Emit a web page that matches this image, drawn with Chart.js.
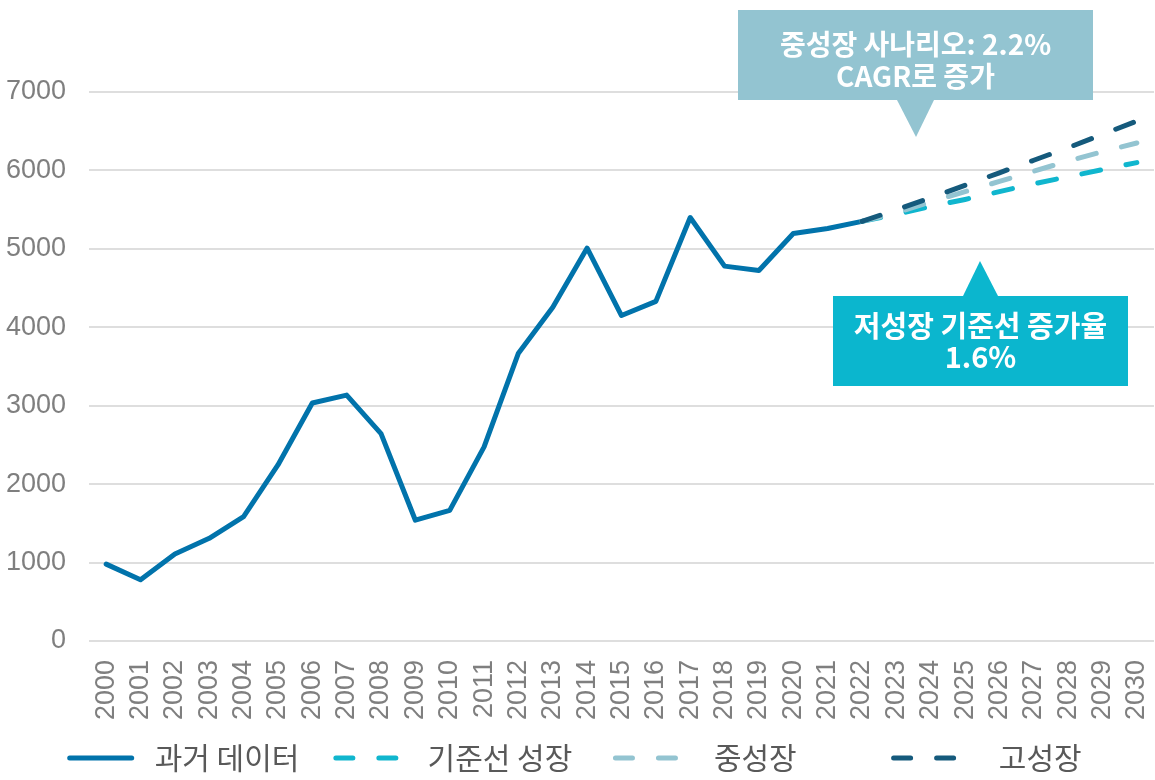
<!DOCTYPE html>
<html>
<head>
<meta charset="utf-8">
<script src="https://cdn.jsdelivr.net/npm/chart.js@4.4.1/dist/chart.umd.min.js"></script>
<style>
  html, body { margin: 0; padding: 0; background: #ffffff; }
  #wrap { width: 1155px; height: 780px; }
</style>
</head>
<body>
<div id="wrap"><canvas id="c" width="1155" height="780"></canvas></div>
<script>
// ---- data ----
const years = ['2000','2001','2002','2003','2004','2005','2006','2007','2008','2009',
               '2010','2011','2012','2013','2014','2015','2016','2017','2018','2019',
               '2020','2021','2022','2023','2024','2025','2026','2027','2028','2029','2030'];
const historical = [980, 780, 1110, 1310, 1585, 2245, 3035, 3135, 2645, 1540,
                    1665, 2475, 3670, 4255, 5010, 4150, 4330, 5400, 4780, 4725,
                    5195, 5260, 5350, null, null, null, null, null, null, null, null];
const baseline = [null, null, null, null, null, null, null, null, null, null,
                  null, null, null, null, null, null, null, null, null, null,
                  null, null, 5350, 5440, 5540, 5630, 5730, 5830, 5920, 6010, 6100];
const midGrowth = [null, null, null, null, null, null, null, null, null, null,
                   null, null, null, null, null, null, null, null, null, null,
                   null, null, 5350, 5460, 5600, 5730, 5860, 5990, 6120, 6240, 6350];
const highGrowth = [null, null, null, null, null, null, null, null, null, null,
                    null, null, null, null, null, null, null, null, null, null,
                    null, null, 5350, 5500, 5650, 5810, 5970, 6130, 6290, 6460, 6630];
const seriesNames = ['과거 데이터', '기준선 성장', '중성장', '고성장'];
const yTicks = [0, 1000, 2000, 3000, 4000, 5000, 6000, 7000];
const calloutMid = ['중성장 사나리오: 2.2%', 'CAGR로 증가'];
const calloutLow = ['저성장 기준선 증가율', '1.6%'];

// ---- styles ----
const colors = ['#0173AB', '#10B6CE', '#93C4D1', '#155A7C'];
const legendDash = [[62, 200], [17, 26], [17, 26], [17, 26]];
const legendLead = ['', ' ', '  ', '   '];
const legendTrail = ['  ', '   ', '           ', ' '];

const calloutPlugin = {
  id: 'callouts',
  afterDraw(chart) {
    const ctx = chart.ctx;
    function box(rect, tri, fill, lines, lineY, size) {
      ctx.save();
      ctx.fillStyle = fill;
      ctx.fillRect(rect[0], rect[1], rect[2] - rect[0], rect[3] - rect[1]);
      ctx.beginPath();
      ctx.moveTo(tri[0], tri[1]);
      ctx.lineTo(tri[2], tri[1]);
      ctx.lineTo(tri[3], tri[4]);
      ctx.closePath();
      ctx.fill();
      ctx.fillStyle = '#ffffff';
      ctx.font = 'bold ' + size + 'px "Noto Sans CJK KR"';
      ctx.textAlign = 'center';
      ctx.textBaseline = 'middle';
      const cx = (rect[0] + rect[2]) / 2;
      lines.forEach((t, i) => ctx.fillText(t, cx, lineY[i]));
      ctx.restore();
    }
    box([738, 10, 1093, 100], [897, 100, 934, 916, 137], '#93C4D1', calloutMid, [44, 76], 28);
    box([833, 296, 1128, 386], [963, 296, 998, 980, 261], '#0BB6CE', calloutLow, [326, 357], 29);
  }
};

const ds = (label, data, color, order, dash) => ({
  label, data, borderColor: color, backgroundColor: color,
  borderWidth: 5, pointRadius: 0, pointHoverRadius: 0, tension: 0,
  borderJoinStyle: 'round', borderCapStyle: 'round',
  borderDash: dash || [], order, spanGaps: false, fill: false
});

new Chart(document.getElementById('c'), {
  type: 'line',
  data: {
    labels: years,
    datasets: [
      ds(seriesNames[0], historical, colors[0], 4, null),
      ds(seriesNames[1], baseline, colors[1], 3, [19, 26]),
      ds(seriesNames[2], midGrowth, colors[2], 2, [19, 26]),
      ds(seriesNames[3], highGrowth, colors[3], 1, [19, 26])
    ]
  },
  options: {
    responsive: false,
    animation: false,
    events: [],
    layout: { padding: { left: 4, right: 1, top: 92, bottom: -3 } },
    plugins: {
      tooltip: { enabled: false },
      legend: {
        position: 'bottom',
        labels: {
          usePointStyle: true,
          pointStyleWidth: 70,
          padding: 23,
          color: '#595959',
          font: { family: '"Noto Sans CJK KR"', size: 30 },
          generateLabels(chart) {
            return chart.data.datasets.map((d, i) => ({
              text: legendLead[i] + d.label + legendTrail[i],
              fillStyle: d.borderColor,
              strokeStyle: d.borderColor,
              fontColor: '#595959',
              lineWidth: 5,
              lineDash: legendDash[i],
              lineCap: 'round',
              pointStyle: 'line',
              hidden: false,
              datasetIndex: i
            }));
          }
        }
      }
    },
    scales: {
      x: {
        offset: true,
        grid: { display: false, drawTicks: false },
        border: { display: false },
        afterFit(s) { s.height = 79; s.paddingLeft = 0; s.paddingRight = 0; },
        ticks: {
          autoSkip: false, maxRotation: 90, minRotation: 90, padding: 19,
          color: '#7f7f7f', font: { family: '"Liberation Sans", Arial', size: 27 }
        }
      },
      y: {
        min: yTicks[0], max: yTicks[yTicks.length - 1],
        afterBuildTicks(scale) { scale.ticks = yTicks.map(v => ({ value: v })); },
        afterFit(s) { s.width = 85; },
        grid: { color: '#dedede', lineWidth: 2, drawTicks: false },
        border: { display: false },
        ticks: {
          padding: 23, color: '#7f7f7f',
          font: { family: '"Liberation Sans", Arial', size: 27 },
          callback: v => String(v)
        }
      }
    }
  },
  plugins: [calloutPlugin]
});
</script>
</body>
</html>
